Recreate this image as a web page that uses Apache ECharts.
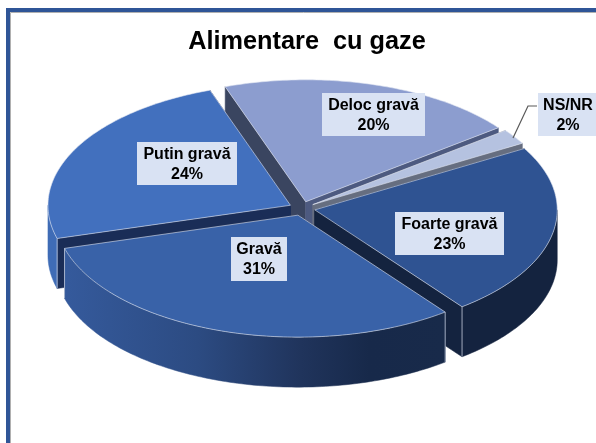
<!DOCTYPE html>
<html><head><meta charset="utf-8">
<style>html,body{margin:0;padding:0;background:#fff}#c{width:596px;height:443px}</style>
<script src="https://cdn.jsdelivr.net/npm/echarts@6/dist/echarts.min.js"></script>
</head><body><div id="c"></div>
<script>
const titleText = 'Alimentare  cu gaze';
const categories = ['Foarte gravă', 'Gravă', 'Putin gravă', 'Deloc gravă', 'NS/NR'];
const values = [23, 31, 24, 20, 2];

// presentation, parallel to categories
const topColors  = ['#2f5392', '#3962a8', '#4270be', '#8c9dcf', '#b5c2e0'];
const paintOrder = [3, 4, 2, 0, 1];
const labelBoxes = [[395,212,109,43],[231,237,56,44],[137,142,100,43],[322,93,103,43],[538,93,60,43]];

const CX = 302, CY = 208.5, RX = 242.5, RY = 122, DEPTH = 50, EX = 13, EY = 7, START = -30.2;
const total = values.reduce((a, b) => a + b, 0);
const angles = [];
values.reduce((a, v) => { angles.push([a, a + v / total * 360]); return a + v / total * 360; }, START);
const rad = d => d * Math.PI / 180;

const wallStyle = [
  { arc: '#14233f', a: '#14233f', b: '#14233f' },
  { arc: null, a: '#1a2b4d', b: '#1a2b4d' },
  { arc: '#3f6cb6', a: '#1a2d57', b: '#1a2d57' },
  { arc: '#3a4560', a: '#3a4560', b: '#4d5a80' },
  { arc: '#6a7183', a: '#6a7183', b: '#666e80' }
];
const gravaGradient = { type: 'linear', x: 0, y: 0, x2: 1, y2: 0, colorStops: [
  { offset: 0, color: '#355a9c' }, { offset: .35, color: '#2c4b82' },
  { offset: .62, color: '#20345c' }, { offset: .8, color: '#17294a' }, { offset: 1, color: '#182a4a' }] };

function renderSlice(params, api) {
  const i = params.dataIndex;
  const [a0, a1] = angles[i];
  const mid = rad((a0 + a1) / 2);
  const ox = CX + EX * Math.cos(mid), oy = CY + EY * Math.sin(mid);
  const pt = d => [ox + RX * Math.cos(rad(d)), oy + RY * Math.sin(rad(d))];
  const arc = (s, e) => { const p = [], n = Math.max(2, Math.ceil((e - s) / 1)); for (let k = 0; k <= n; k++) p.push(pt(s + (e - s) * k / n)); return p; };
  const down = p => [p[0], p[1] + DEPTH];
  const z = paintOrder[i] * 10;
  const kids = [];
  const wall = (pts, fill) => kids.push({ type: 'polygon', z2: z, shape: { points: pts }, style: { fill, stroke: fill, lineWidth: .5 } });
  const A = pt(a0), B = pt(a1), O = [ox, oy];
  wall([O, A, down(A), down(O)], wallStyle[i].a);
  wall([O, B, down(B), down(O)], wallStyle[i].b);
  // visible part of the outer rim
  const vs = Math.max(a0, 0), ve = Math.min(a1, 180);
  if (ve > vs) {
    const rim = arc(vs, ve);
    wall(rim.concat(rim.slice().reverse().map(down)), wallStyle[i].arc || gravaGradient);
    [vs, ve].forEach(d => { if (d === a0 || d === a1) { const p = pt(d); kids.push({ type: 'line', z2: z + 2, shape: { x1: p[0], y1: p[1], x2: p[0], y2: p[1] + DEPTH }, style: { stroke: '#c5cdde', lineWidth: .8 } }); } });
  }
  kids.push({ type: 'polygon', z2: z + 1, shape: { points: [O].concat(arc(a0, a1)) }, style: { fill: topColors[i], stroke: 'rgba(225,230,242,.75)', lineWidth: .8 } });
  return { type: 'group', children: kids };
}

function renderLabel(params, api) {
  const i = params.dataIndex;
  const b = labelBoxes[i];
  const kids = [
    { type: 'rect', shape: { x: b[0], y: b[1], width: b[2], height: b[3] }, style: { fill: '#d9e2f3' } },
    { type: 'text', style: { x: b[0] + b[2] / 2, y: b[1] + b[3] / 2 + 1, text: categories[i] + '\n' + api.value(1) + '%', align: 'center', verticalAlign: 'middle', font: 'bold 16px "Liberation Sans"', lineHeight: 20, fill: '#000' } }
  ];
  if (i === 4) kids.push({ type: 'polyline', shape: { points: [[513, 138], [528, 106], [537, 106]] }, style: { fill: 'none', stroke: '#595959', lineWidth: 1.2 } });
  return { type: 'group', children: kids };
}

const seriesData = categories.map((c, i) => [i, values[i], c]);
const chart = echarts.init(document.getElementById('c'), null, { renderer: 'canvas' });
chart.setOption({
  animation: false,
  backgroundColor: '#fff',
  title: { text: titleText, left: 302, top: 25, textAlign: 'center', textStyle: { fontFamily: 'Liberation Sans', fontWeight: 'bold', fontSize: 25.3, color: '#000' } },
  graphic: [
    { type: 'rect', shape: { x: 6, y: 8, width: 590, height: 4 }, style: { fill: '#2f5597' } },
    { type: 'rect', shape: { x: 6, y: 8, width: 4, height: 435 }, style: { fill: '#2f5597' } },
    { type: 'polyline', shape: { points: [[10.5, 443], [10.5, 12.5], [596, 12.5]] }, style: { fill: 'none', stroke: '#b0b0b0', lineWidth: 1 } }
  ],
  series: [
    { type: 'custom', coordinateSystem: 'none', renderItem: renderSlice, data: seriesData, silent: true, z: 2 },
    { type: 'custom', coordinateSystem: 'none', renderItem: renderLabel, data: seriesData, silent: true, z: 5 }
  ]
});
</script></body></html>
